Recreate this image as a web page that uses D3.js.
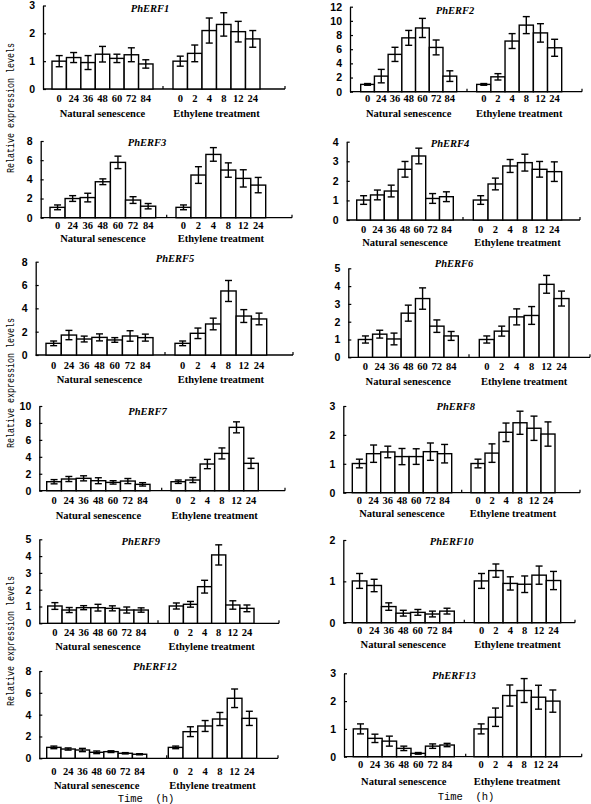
<!DOCTYPE html>
<html><head><meta charset="utf-8">
<script src="https://cdn.jsdelivr.net/npm/d3@7"></script>
<style>body{margin:0;background:#fff}svg{display:block}</style>
</head><body>
<svg id="c" width="591" height="804"></svg>
<script>
// ---------- data ----------
const genes = ["PhERF1","PhERF2","PhERF3","PhERF4","PhERF5","PhERF6","PhERF7","PhERF8","PhERF9","PhERF10","PhERF12","PhERF13"];
const nsLabels = ["0","24","36","48","60","72","84"];
const etLabels = ["0","2","4","8","12","24"];
const groupNames = ["Natural senescence","Ethylene treatment"];
const yAxisTitle = "Relative expression levels";
const xAxisTitle = "Time\u00A0\u00A0(h)";

const PhERF1_ns = [1.0,1.13,0.95,1.25,1.1,1.23,0.9],  PhERF1_nsErr = [0.2,0.18,0.25,0.28,0.15,0.25,0.15];
const PhERF1_et = [1.0,1.28,2.1,2.32,2.06,1.8],        PhERF1_etErr = [0.18,0.3,0.45,0.42,0.37,0.3];
const PhERF2_ns = [1.03,2.2,5.27,7.6,9.0,6.25,2.2],   PhERF2_nsErr = [0.12,0.95,1.0,1.05,1.35,1.05,0.75];
const PhERF2_et = [1.03,2.1,7.15,9.4,8.3,6.2],         PhERF2_etErr = [0.12,0.45,1.05,1.2,1.3,1.2];
const PhERF3_ns = [1.08,2.0,2.1,3.75,5.77,1.84,1.2],  PhERF3_nsErr = [0.25,0.3,0.45,0.3,0.65,0.35,0.28];
const PhERF3_et = [1.08,4.45,6.6,4.97,4.1,3.4],        PhERF3_etErr = [0.25,0.87,0.71,0.75,0.9,0.8];
const PhERF4_ns = [1.02,1.28,1.48,2.59,3.27,1.1,1.19], PhERF4_nsErr = [0.22,0.25,0.3,0.4,0.4,0.25,0.25];
const PhERF4_et = [1.02,1.84,2.76,2.93,2.59,2.47],     PhERF4_etErr = [0.22,0.3,0.33,0.43,0.4,0.5];
const PhERF5_ns = [1.0,1.71,1.37,1.51,1.29,1.63,1.49], PhERF5_nsErr = [0.2,0.4,0.25,0.3,0.2,0.45,0.3];
const PhERF5_et = [1.0,1.86,2.66,5.49,3.34,3.09],      PhERF5_etErr = [0.2,0.45,0.5,0.9,0.55,0.5];
const PhERF6_ns = [1.0,1.3,1.03,2.48,3.3,1.75,1.2],   PhERF6_nsErr = [0.2,0.22,0.33,0.45,0.6,0.35,0.25];
const PhERF6_et = [1.0,1.47,2.27,2.35,4.1,3.3],        PhERF6_etErr = [0.2,0.28,0.45,0.5,0.5,0.42];
const PhERF7_ns = [1.06,1.38,1.46,1.18,0.98,1.14,0.75], PhERF7_nsErr = [0.25,0.3,0.3,0.35,0.2,0.3,0.2];
const PhERF7_et = [1.06,1.26,3.15,4.4,7.48,3.23],      PhERF7_etErr = [0.2,0.3,0.55,0.65,0.65,0.6];
const PhERF8_ns = [1.01,1.35,1.41,1.25,1.25,1.42,1.35], PhERF8_nsErr = [0.15,0.3,0.2,0.28,0.27,0.3,0.32];
const PhERF8_et = [1.01,1.37,2.09,2.42,2.23,2.03],     PhERF8_etErr = [0.15,0.32,0.32,0.4,0.42,0.42];
const PhERF9_ns = [1.03,0.79,0.93,0.93,0.89,0.79,0.79], PhERF9_nsErr = [0.2,0.15,0.12,0.2,0.15,0.18,0.13];
const PhERF9_et = [1.03,1.13,2.18,4.07,1.09,0.89],     PhERF9_etErr = [0.18,0.17,0.38,0.6,0.25,0.2];
const PhERF10_ns = [1.01,0.9,0.39,0.23,0.25,0.21,0.28], PhERF10_nsErr = [0.18,0.15,0.09,0.07,0.07,0.07,0.07];
const PhERF10_et = [1.01,1.26,0.95,0.93,1.15,1.02],     PhERF10_etErr = [0.18,0.16,0.16,0.2,0.22,0.22];
const PhERF12_ns = [1.0,0.85,0.76,0.55,0.61,0.46,0.37], PhERF12_nsErr = [0.12,0.1,0.15,0.12,0.08,0.06,0.05];
const PhERF12_et = [1.0,2.44,2.96,3.6,5.5,3.66],        PhERF12_etErr = [0.12,0.45,0.5,0.6,0.85,0.65];
const PhERF13_ns = [1.0,0.66,0.56,0.3,0.12,0.38,0.42], PhERF13_nsErr = [0.18,0.15,0.18,0.08,0.03,0.08,0.06];
const PhERF13_et = [1.0,1.42,2.2,2.38,2.14,2.0],        PhERF13_etErr = [0.18,0.33,0.38,0.43,0.43,0.4];

const yMax  = [3,12,8,4,8,5,10,3,5,2,8,3];
const yStep = [1,2,2,1,2,1,2,1,1,1,2,1];

const seriesTable = [
  [PhERF1_ns,PhERF1_nsErr,PhERF1_et,PhERF1_etErr],
  [PhERF2_ns,PhERF2_nsErr,PhERF2_et,PhERF2_etErr],
  [PhERF3_ns,PhERF3_nsErr,PhERF3_et,PhERF3_etErr],
  [PhERF4_ns,PhERF4_nsErr,PhERF4_et,PhERF4_etErr],
  [PhERF5_ns,PhERF5_nsErr,PhERF5_et,PhERF5_etErr],
  [PhERF6_ns,PhERF6_nsErr,PhERF6_et,PhERF6_etErr],
  [PhERF7_ns,PhERF7_nsErr,PhERF7_et,PhERF7_etErr],
  [PhERF8_ns,PhERF8_nsErr,PhERF8_et,PhERF8_etErr],
  [PhERF9_ns,PhERF9_nsErr,PhERF9_et,PhERF9_etErr],
  [PhERF10_ns,PhERF10_nsErr,PhERF10_et,PhERF10_etErr],
  [PhERF12_ns,PhERF12_nsErr,PhERF12_et,PhERF12_etErr],
  [PhERF13_ns,PhERF13_nsErr,PhERF13_et,PhERF13_etErr]
];

// ---------- layout (pixel positions only) ----------
const layout = [
  {ax:43,   x1:285, mid:163,   y0:89,    yT:5.5,   ns:[52,153],    et:[173,260],     tY:98,  gY:113,  t:[150,8]},
  {ax:350,  x1:582, mid:467,   y0:91.7,  yT:6.7,   ns:[360.7,456.7],et:[476.7,561.7], tY:98,  gY:113,  t:[455,10]},
  {ax:40.7, x1:292, mid:166.7, y0:217.7, yT:141,   ns:[50,155.7],  et:[176,265.7],   tY:225, gY:238,  t:[147,142]},
  {ax:346.7,x1:580, mid:463,   y0:220,   yT:141.7, ns:[356.7,453.3],et:[473.3,561.7], tY:229, gY:242,  t:[450,143]},
  {ax:35.7, x1:293, mid:165,   y0:355,   yT:261.7, ns:[46,153],    et:[175,266.7],   tY:365, gY:379,  t:[175,258]},
  {ax:348.3,x1:590, mid:469,   y0:357.3, yT:268.3, ns:[358.3,458.3],et:[479.3,569],   tY:366.7,gY:381, t:[454,263]},
  {ax:39.3, x1:285, mid:161.7, y0:490.7, yT:406,   ns:[46.7,150],  et:[171,258.3],   tY:500, gY:515,  t:[147.5,411.7]},
  {ax:343.3,x1:580, mid:461.7, y0:492.7, yT:406,   ns:[352.3,451.7],et:[471,555],     tY:500, gY:513,  t:[455.8,406.7]},
  {ax:39.3, x1:279, mid:158,   y0:623.3, yT:539.3, ns:[47.7,148.3],et:[169.3,254],   tY:632, gY:646.7,t:[140.8,541.7]},
  {ax:343.3,x1:575, mid:464.3, y0:622.7, yT:540,   ns:[352.3,454.3],et:[474.3,560.7], tY:630, gY:644.3,t:[451.7,541.7]},
  {ax:39.3, x1:278, mid:166.7, y0:758.3, yT:671,   ns:[46.7,146.7],et:[168.3,256.7], tY:771, gY:785,  t:[155,666.7]},
  {ax:344,  x1:581.7,mid:465.7,y0:756.7, yT:673.3, ns:[353.3,454.3],et:[474,560],     tY:764.3,gY:781.7,t:[454,675.7]}
];

const svg = d3.select("#c");
const serif = "'Liberation Serif','Times New Roman',serif";
const sans = "'Liberation Sans',Arial,sans-serif";
const mono = "'Liberation Mono','DejaVu Sans Mono',monospace";

genes.forEach((g, i) => {
  const L = layout[i];
  const [nsV, nsE, etV, etE] = seriesTable[i];
  const ticks = d3.range(0, yMax[i] + yStep[i] / 2, yStep[i]);
  const y = d3.scaleLinear().domain([0, yMax[i]]).range([L.y0, L.yT]);
  const xNS = d3.scaleBand().domain(nsLabels).range(L.ns).padding(0);
  const xET = d3.scaleBand().domain(etLabels).range(L.et).padding(0);
  const p = svg.append("g");

  // y axis
  const ya = p.append("g").attr("transform", `translate(${L.ax},0)`)
    .call(d3.axisLeft(y).tickValues(ticks).tickSizeInner(-3).tickSizeOuter(0).tickPadding(8).tickFormat(d3.format("d")));
  ya.select(".domain").attr("stroke", "#000").attr("stroke-width", 1.3);
  ya.selectAll(".tick line").attr("stroke", "#000").attr("stroke-width", 1.2);
  ya.selectAll("text").attr("font-family", sans).attr("font-weight", "bold").attr("font-size", 10.5).attr("fill", "#000");

  // x axis line with group-boundary ticks
  p.append("line").attr("x1", L.ax).attr("x2", L.x1).attr("y1", L.y0).attr("y2", L.y0)
    .attr("stroke", "#000").attr("stroke-width", 1.3);
  [L.mid, L.x1].forEach(xx => p.append("line").attr("x1", xx).attr("x2", xx)
    .attr("y1", L.y0).attr("y2", L.y0 - 3).attr("stroke", "#000").attr("stroke-width", 1.2));

  const groups = [
    {x: xNS, labels: nsLabels, v: nsV, e: nsE, name: groupNames[0], r: L.ns},
    {x: xET, labels: etLabels, v: etV, e: etE, name: groupNames[1], r: L.et}
  ];
  groups.forEach(G => {
    const data = G.labels.map((lab, k) => ({lab, v: G.v[k], e: G.e[k]}));
    p.selectAll(null).data(data).enter().append("rect")
      .attr("x", d => G.x(d.lab)).attr("width", G.x.bandwidth())
      .attr("y", d => y(d.v)).attr("height", d => y(0) - y(d.v))
      .attr("fill", "#fff").attr("stroke", "#000").attr("stroke-width", 1.4);
    const cx = d => G.x(d.lab) + G.x.bandwidth() / 2;
    const eg = p.selectAll(null).data(data).enter().append("g")
      .attr("stroke", "#000").attr("stroke-width", 1.4);
    eg.append("line").attr("x1", cx).attr("x2", cx).attr("y1", d => y(d.v - d.e)).attr("y2", d => y(d.v + d.e));
    eg.append("line").attr("x1", d => cx(d) - 3.5).attr("x2", d => cx(d) + 3.5).attr("y1", d => y(d.v + d.e)).attr("y2", d => y(d.v + d.e));
    eg.append("line").attr("x1", d => cx(d) - 3.5).attr("x2", d => cx(d) + 3.5).attr("y1", d => y(d.v - d.e)).attr("y2", d => y(d.v - d.e));
    p.selectAll(null).data(data).enter().append("text")
      .attr("x", cx).attr("y", L.tY).attr("dy", "0.35em").attr("text-anchor", "middle")
      .attr("font-family", serif).attr("font-weight", "bold").attr("font-size", 10.5)
      .text(d => d.lab);
    p.append("text").attr("x", (G.r[0] + G.r[1]) / 2).attr("y", L.gY).attr("dy", "0.35em")
      .attr("text-anchor", "middle").attr("font-family", serif).attr("font-weight", "bold")
      .attr("font-size", 10.5).text(G.name);
  });

  p.append("text").attr("x", L.t[0]).attr("y", L.t[1]).attr("dy", "0.35em").attr("text-anchor", "middle")
    .attr("font-family", serif).attr("font-weight", "bold").attr("font-style", "italic")
    .attr("font-size", 10.5).text(g);
});

// shared axis titles
[108, 383, 641].forEach(cy => {
  svg.append("text").attr("transform", `translate(10,${cy}) rotate(-90)`).attr("dy", "0.35em")
    .attr("text-anchor", "middle").attr("font-family", mono).attr("font-size", 10)
    .attr("textLength", 130).attr("lengthAdjust", "spacingAndGlyphs").text(yAxisTitle);
});
[[146, 798], [466, 796]].forEach(([x, yy]) => {
  svg.append("text").attr("x", x).attr("y", yy).attr("dy", "0.35em").attr("text-anchor", "middle")
    .attr("font-family", mono).attr("font-size", 10.5).text(xAxisTitle);
});
</script>
</body></html>
